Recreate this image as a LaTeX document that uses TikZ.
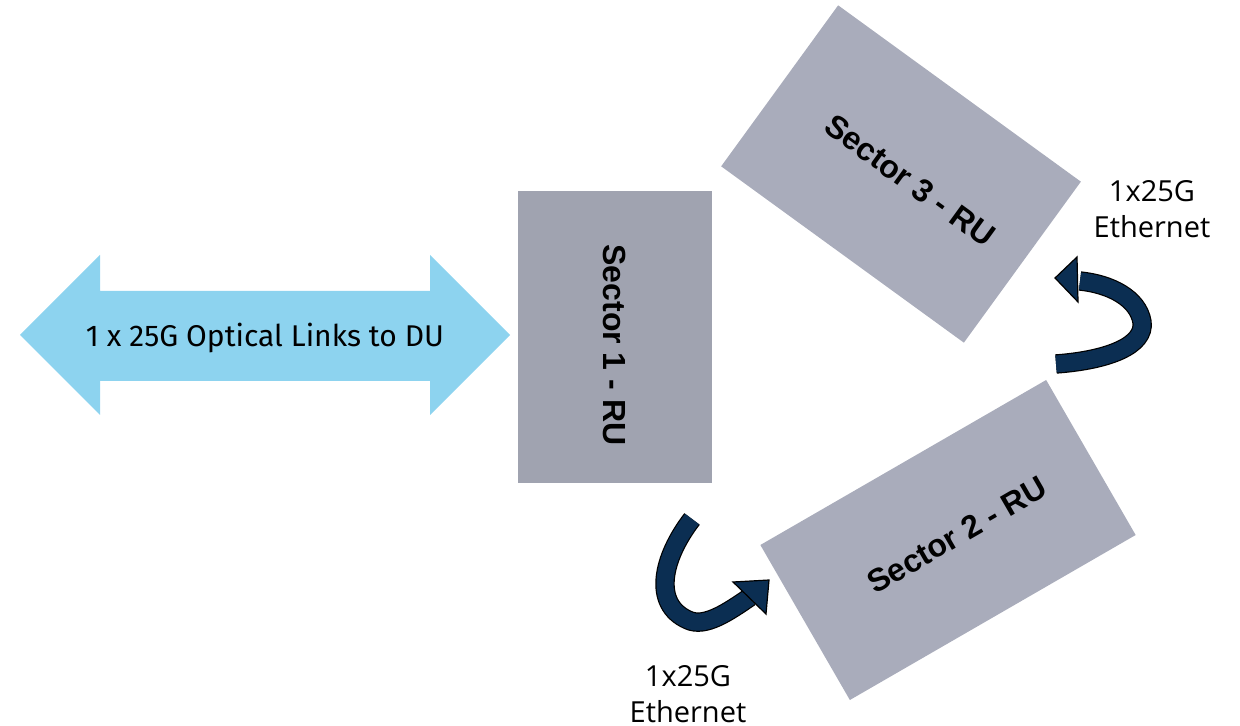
\documentclass[tikz,border=0pt]{standalone}
\usepackage{fontspec}
\setmainfont{Open Sans}
\newfontfamily\rufont{Liberation Sans}
\newfontfamily\linkfont{Fira Sans}
\usepackage{xcolor}
\usepackage{tikz}

\definecolor{linkblue}{HTML}{8DD3EF}
\definecolor{rugrey}{HTML}{A0A3B0}
\definecolor{rulight}{HTML}{A9ACBB}
\definecolor{ribbonnavy}{HTML}{0B2E52}

\tikzset{
  rubox/.style={fill=rulight, inner sep=0pt, font=\rufont\bfseries\fontsize{16}{18}\selectfont},
  ribbon/.style={draw=black, line width=0.6pt, double=ribbonnavy, double distance=8.5pt},
  ribbonhead/.style={fill=ribbonnavy, draw=black, line width=0.6pt},
  ethlabel/.style={font=\fontsize{14.5}{18}\selectfont, align=center}
}

\begin{document}
\begin{tikzpicture}[x=0.5pt, y=-0.5pt]
            \useasboundingbox (0,0) rectangle (1240,726);
            % Optical link to DU
            \fill[linkblue] (20,335) -- (100,255) -- (100,291) -- (430,291) -- (430,255) -- (510,335)
                -- (430,415) -- (430,381) -- (100,381) -- (100,415) -- cycle;
            \node[font=\linkfont\fontsize{15}{17}\selectfont] (optlink) at (265,338) {1 x 25G Optical Links to DU};
            % Radio units
            \node[rubox, fill=rugrey, minimum width=146pt, minimum height=97pt, rotate=-90] (ru1) at (615,337) {\hspace*{8pt}Sector 1 - RU};
            \node[rubox, minimum width=165pt, minimum height=89.5pt, rotate=30] (ru2) at (948,540) {\hspace*{10pt}Sector 2 - RU};
            \node[rubox, minimum width=150pt, minimum height=99.5pt, rotate=-36] (ru3) at (901,174) {\hspace*{11pt}Sector 3 - RU};
            % Curved arrows between sectors
            \draw[ribbon] (692,519) .. controls (662,558) and (652,604) .. (688,620) .. controls (705,628) and (728,612) .. (750,597);
            \draw[ribbonhead] (733,582) -- (769,580) -- (766,614) -- cycle;
            \draw[ribbon] (1056,364) .. controls (1110,360) and (1145,345) .. (1142,322) .. controls (1138,298) and (1110,284) .. (1080,281);
            \draw[ribbonhead] (1077,257) -- (1055,278) -- (1078,302) -- cycle;
            % Link labels
            \node[ethlabel] (eth12) at (688,694) {1x25G\\Ethernet};
            \node[ethlabel] (eth23) at (1152,209) {1x25G\\Ethernet};
        \end{tikzpicture}
\end{document}
